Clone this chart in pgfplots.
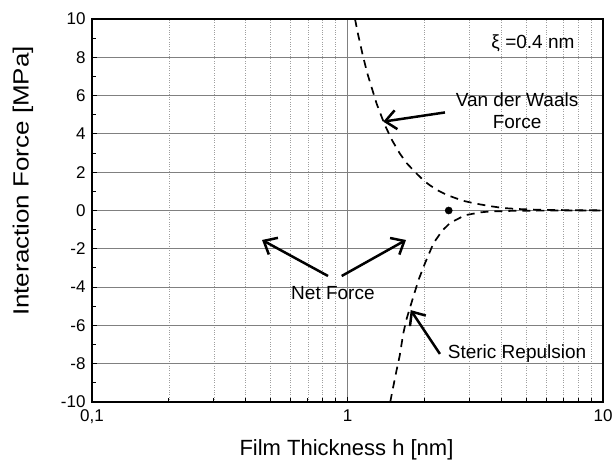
\documentclass[border=0pt]{standalone}
\usepackage{fontspec}
\setmainfont{Liberation Sans}
\usepackage{pgfplots}
\pgfplotsset{compat=1.18}
\usetikzlibrary{arrows.meta,calc}
\begin{document}
\begin{tikzpicture}
\begin{axis}[
  scale only axis, width=511pt, height=383pt,
  xmode=log, xmin=0.1, xmax=10, ymin=-10, ymax=10,
  xtick={0.1,1,10}, xticklabels={{0,1},1,10},
  minor xtick={0.2,0.3,0.4,0.5,0.6,0.7,0.8,0.9,2,3,4,5,6,7,8,9},
  ytick={-10,-8,...,10}, minor ytick={-9,-7,...,9},
  yticklabels={{-10},{-8},{-6},{-4},{-2},{0},{2},{4},{6},{8},{10}},
  tick pos=left, tick align=inside,
  major tick length=5pt, minor tick length=4pt,
  every tick/.style={black, line width=0.9pt},
  xmajorgrids, xminorgrids, ymajorgrids,
  major grid style={gray, line width=0.9pt},
  minor grid style={gray!75, dotted, line width=0.7pt},
  axis line style={line width=1.5pt},
  /pgf/number format/assume math mode=true,
  ticklabel style={font=\fontsize{17}{20}\selectfont},
  xticklabel style={yshift=-4pt},
  yticklabel style={xshift=-3pt},
  xlabel={Film Thickness h [nm]},
  ylabel={\scalebox{1.18}[1]{Interaction Force [MPa]}},
  xlabel style={font=\fontsize{22}{26}\selectfont, at={(axis description cs:0.498,-0.125)}, anchor=center},
  ylabel style={font=\fontsize{22}{26}\selectfont, at={(axis description cs:-0.135,0.577)}, anchor=center},
  clip=true,
]
% Van der Waals force
\addplot[black, line width=1.7pt, dash pattern=on 8pt off 6pt] coordinates {
(1.07,10.0) (1.1,9.2) (1.15,8.05) (1.2,7.09) (1.3,5.58) (1.4,4.46) (1.5,3.63)
(1.6,2.99) (1.7,2.49) (1.84,2.0) (2.0,1.53) (2.1,1.32) (2.25,1.06) (2.44,0.82)
(2.63,0.66) (2.83,0.51) (3.05,0.41) (3.3,0.32) (3.65,0.22) (4.06,0.13)
(4.6,0.08) (5.5,0.04) (7,0.02) (10,0.01)};
% Steric repulsion
\addplot[black, line width=1.7pt, dash pattern=on 8pt off 6pt] coordinates {
(1.47,-10) (1.5,-9.4) (1.557,-8.33) (1.6,-7.6) (1.654,-6.41) (1.7,-5.7)
(1.81,-4.5) (1.9,-3.6) (2.01,-2.76) (2.17,-1.71) (2.35,-1.05) (2.52,-0.65)
(2.88,-0.25) (3.3,-0.10) (3.61,-0.05) (4.5,-0.015) (6,-0.005) (10,0)};
% equilibrium point
\addplot[only marks, mark=*, mark size=3.6pt, black] coordinates {(2.49,0)};

\begin{scope}[font=\fontsize{19}{22}\selectfont]
\node at (axis cs:5.32,8.75) {ξ =0.4 nm};
\node[align=center] at (axis cs:4.61,5.20) {Van der Waals\\Force};
\node at (axis cs:0.877,-4.31) {Net Force};
\node at (axis cs:4.61,-7.49) {Steric Repulsion};
\end{scope}
\begin{scope}[line width=2.5pt, -{Straight Barb[length=11pt,width=19pt,line width=2.5pt]}]
\draw (axis cs:2.407,5.12) -- (axis cs:1.38,4.64);
\draw (axis cs:0.839,-3.42) -- (axis cs:0.463,-1.54);
\draw (axis cs:0.949,-3.42) -- (axis cs:1.694,-1.54);
\draw (axis cs:2.30,-7.49) -- (axis cs:1.768,-5.2);
\end{scope}
\end{axis}
\pgfresetboundingbox
\path[use as bounding box] ($(current axis.south west)+(-92pt,-63pt)$) rectangle ($(current axis.north east)+(9pt,19pt)$);
\end{tikzpicture}
\end{document}
